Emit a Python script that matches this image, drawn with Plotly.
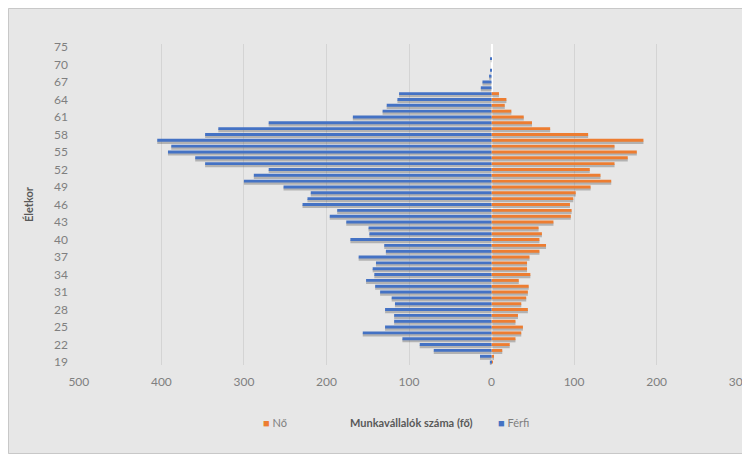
import plotly.graph_objects as go

# age categories (Excel category axis, only every 3rd labelled)
ages = [str(a) for a in range(19, 71)] + ["72", "74", "75"]

# number of employees per age group
ferfi = [2, 14, 70, 87, 108, 156, 129, 118, 118, 129,
         117, 121, 135, 141, 152, 142, 144, 140, 161, 128,
         130, 171, 148, 149, 176, 196, 187, 229, 223, 219,
         252, 300, 288, 270, 347, 359, 392, 388, 405, 347,
         331, 270, 168, 132, 127, 114, 112, 13, 11, 3,
         1, 0, 1, 0, 0]
no = [1, 3, 13, 22, 29, 36, 38, 29, 32, 44,
      36, 42, 44, 45, 33, 47, 43, 43, 46, 58,
      66, 58, 61, 57, 75, 96, 97, 95, 99, 102,
      120, 145, 132, 119, 149, 165, 176, 149, 184, 117,
      71, 49, 39, 24, 16, 18, 9, 0, 0, 0,
      0, 0, 0, 0, 0]

x_ticks = [-500, -400, -300, -200, -100, 0, 100, 200, 300]
x_labels = ["500", "400", "300", "200", "100", "0", "100", "200", "300"]

BLUE = "#4472C4"
ORANGE = "#ED7D31"
SHADOW = "rgba(80,80,80,0.35)"
FONT = "Lato"

W, H = 742, 446
ML, MR, MT, MB = 70, 10, 36, 89
PW, PH = W - ML - MR, H - MT - MB


def px(x):
    return (x - ML) / PW


def py(y):
    return (H - MB - y) / PH


ferfi_neg = [-v for v in ferfi]

fig = go.Figure()

# soft drop shadows under the bars (Excel style)
for vals in (no, ferfi_neg):
    fig.add_trace(go.Bar(y=ages, x=vals, orientation="h", width=0.55, offset=-0.62,
                         marker=dict(color=SHADOW, line_width=0),
                         showlegend=False, hoverinfo="skip"))

fig.add_trace(go.Bar(y=ages, x=no, orientation="h", name="Nő", width=0.5, offset=-0.25,
                     marker=dict(color=ORANGE, line_width=0), showlegend=False))
fig.add_trace(go.Bar(y=ages, x=ferfi_neg, orientation="h", name="Férfi", width=0.5, offset=-0.25,
                     marker=dict(color=BLUE, line_width=0), showlegend=False,
                     customdata=ferfi, hovertemplate="%{y}: %{customdata}<extra>Férfi</extra>"))

legend_y = py(423)
fig.update_layout(
    width=W, height=H,
    barmode="overlay",
    paper_bgcolor="#E7E7E7",
    plot_bgcolor="#E7E7E7",
    font=dict(family=FONT, size=12, color="#7F7F7F"),
    margin=dict(l=ML, r=MR, t=MT, b=MB, autoexpand=False),
    annotations=[
        dict(text='<span style="color:%s">■</span> Nő' % ORANGE, xref="paper", yref="paper",
             x=px(253), y=legend_y, xanchor="left", showarrow=False,
             font=dict(size=11, color="#7F7F7F")),
        dict(text="<b>Munkavállalók száma (fő)</b>", xref="paper", yref="paper",
             x=px(403), y=legend_y, showarrow=False,
             font=dict(size=11, color="#595959")),
        dict(text='<span style="color:%s">■</span> Férfi' % BLUE, xref="paper", yref="paper",
             x=px(488), y=legend_y, xanchor="left", showarrow=False,
             font=dict(size=11, color="#7F7F7F")),
    ],
    shapes=[
        dict(type="rect", xref="paper", yref="paper",
             x0=px(0.5), x1=px(W - 0.5), y0=py(H - 0.5), y1=py(0.5),
             line=dict(color="#C8C8C8", width=1), layer="below"),
    ],
)

fig.update_xaxes(range=[-501, 301], tickvals=x_ticks, ticktext=x_labels,
                 showgrid=True, gridcolor="#D4D4D4", gridwidth=1,
                 zeroline=True, zerolinecolor="#FFFFFF", zerolinewidth=1.5,
                 ticks="", ticklabelstandoff=8, ticklabeloverflow="allow",
                 automargin=False, showline=False)
fig.update_yaxes(type="category", categoryorder="array", categoryarray=ages,
                 range=[-0.5, len(ages) - 0.5],
                 tickvals=ages[::3], ticktext=ages[::3],
                 showgrid=False, ticks="", ticklabelstandoff=9, automargin=False,
                 title=dict(text="<b>Életkor</b>", standoff=18,
                            font=dict(size=11, color="#595959")))

fig.write_html("out.html")
